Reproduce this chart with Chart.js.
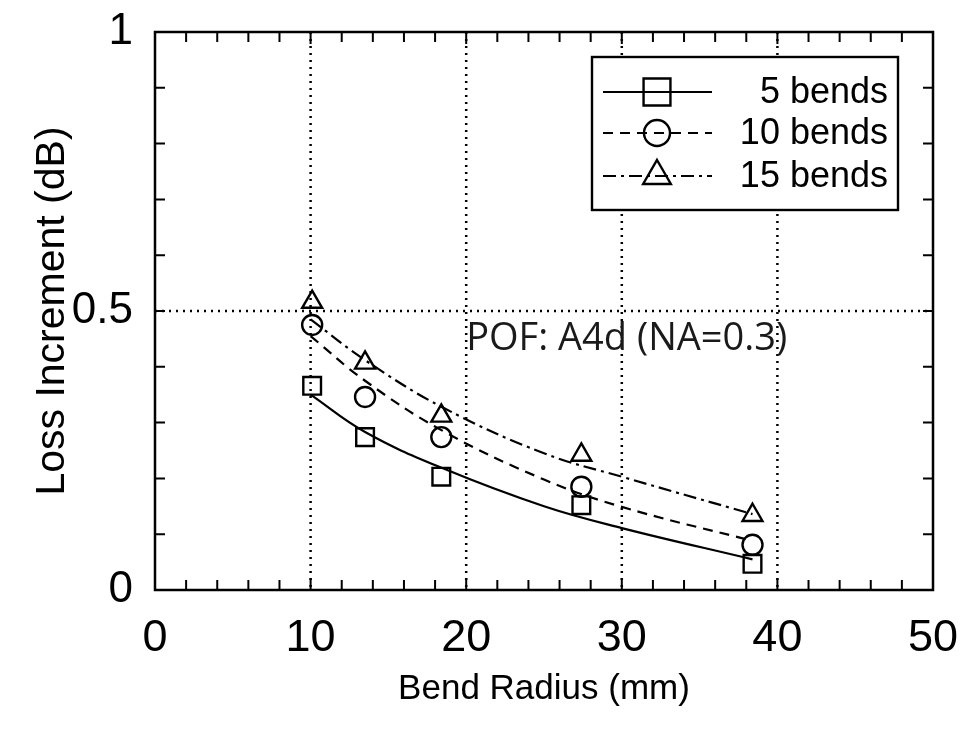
<!DOCTYPE html>
<html>
<head>
<meta charset="utf-8">
<script src="https://cdn.jsdelivr.net/npm/chart.js@4.4.1/dist/chart.umd.min.js"></script>
<style>
  body { margin: 0; background: #fff; }
  canvas { display: block; }
</style>
</head>
<body>
<canvas id="bendChart" width="964" height="734"></canvas>
<script>
// measured points (bend radius in mm, loss in dB)
const radius = [10.1, 13.5, 18.4, 27.4, 38.4];
const loss5 = [0.366, 0.274, 0.203, 0.152, 0.047];
const loss10 = [0.475, 0.346, 0.274, 0.185, 0.081];
const loss15 = [0.516, 0.407, 0.312, 0.242, 0.134];

// fitted curves
const fitRadius = [10, 13.5, 18.5, 25, 30, 38.4];
const fit5 = [0.350, 0.283, 0.218, 0.150, 0.111, 0.055];
const fit10 = [0.455, 0.375, 0.285, 0.198, 0.149, 0.088];
const fit15 = [0.485, 0.412, 0.327, 0.245, 0.203, 0.136];

const legendLabels = ['5 bends', '10 bends', '15 bends'];
const xTicks = [0, 10, 20, 30, 40, 50];
const yTicks = [0, 0.5, 1];

const axisFont = 'Liberation Sans, Arial, sans-serif';

function pts(xs, ys) {
    return xs.map((x, i) => ({ x: x, y: ys[i] }));
}

// r = marker size in the plot, lr = size in the legend
const styles = [
    { dash: [], marker: 'rect', r: 12.5, lr: 19 },
    { dash: [10, 7], marker: 'circle', r: 10, lr: 13 },
    { dash: [13, 5, 3, 5], marker: 'triangle', r: 11.5, lr: 16 }
];

const fits = [fit5, fit10, fit15];
const measured = [loss5, loss10, loss15];

const datasets = [];
fits.forEach((f, i) => {
    datasets.push({
        data: pts(fitRadius, f),
        borderColor: '#000',
        borderWidth: 2.2,
        borderDash: styles[i].dash,
        pointRadius: 0,
        tension: 0.4,
        fill: false
    });
});
measured.forEach((m, i) => {
    datasets.push({
        data: pts(radius, m),
        showLine: false,
        pointStyle: styles[i].marker,
        pointRadius: styles[i].r,
        pointBorderWidth: 2.4,
        pointBorderColor: '#000',
        pointBackgroundColor: 'rgba(0,0,0,0)'
    });
});

// frame, inward ticks, dotted grid, legend and note
const framePlugin = {
    id: 'frame',
    beforeDatasetsDraw(chart) {
        const ctx = chart.ctx;
        const a = chart.chartArea;
        const xs = chart.scales.x;
        const ys = chart.scales.y;
        ctx.save();
        ctx.strokeStyle = '#000';
        // dotted grid
        ctx.lineWidth = 2.5;
        ctx.setLineDash([2, 5]);
        [10, 20, 30, 40].forEach(v => {
            const px = xs.getPixelForValue(v);
            ctx.beginPath();
            ctx.moveTo(px, a.top);
            ctx.lineTo(px, a.bottom);
            ctx.stroke();
        });
        const py = ys.getPixelForValue(0.5);
        ctx.beginPath();
        ctx.moveTo(a.left, py);
        ctx.lineTo(a.right, py);
        ctx.stroke();
        ctx.setLineDash([]);

        // ticks
        ctx.lineWidth = 2;
        for (let v = 2; v < 50; v += 2) {
            const px = xs.getPixelForValue(v);
            const len = v % 10 === 0 ? 12 : 10;
            ctx.beginPath();
            ctx.moveTo(px, a.bottom);
            ctx.lineTo(px, a.bottom - len);
            ctx.moveTo(px, a.top);
            ctx.lineTo(px, a.top + len);
            ctx.stroke();
        }
        for (let k = 1; k < 10; k++) {
            const p = ys.getPixelForValue(k / 10);
            ctx.beginPath();
            ctx.moveTo(a.left, p);
            ctx.lineTo(a.left + 10, p);
            ctx.moveTo(a.right, p);
            ctx.lineTo(a.right - 10, p);
            ctx.stroke();
        }
        ctx.lineWidth = 2.5;
        ctx.strokeRect(a.left, a.top, a.right - a.left, a.bottom - a.top);

        // note
        ctx.fillStyle = '#1a1a1a';
        ctx.font = '38px "Open Sans", "Noto Sans", sans-serif';
        ctx.textAlign = 'left';
        ctx.textBaseline = 'middle';
        ctx.fillText('POF: A4d (NA=0.3)', xs.getPixelForValue(20), ys.getPixelForValue(0.45));
        ctx.restore();
    },
    afterDatasetsDraw(chart) {
        const ctx = chart.ctx;
        ctx.save();
        const bx = 592, by = 57, bw = 306, bh = 153;
        ctx.fillStyle = '#fff';
        ctx.fillRect(bx, by, bw, bh);
        ctx.strokeStyle = '#000';
        ctx.lineWidth = 2.4;
        ctx.strokeRect(bx, by, bw, bh);
        const rows = [92, 133, 176];
        ctx.font = '36px ' + axisFont;
        ctx.textAlign = 'right';
        ctx.textBaseline = 'middle';
        rows.forEach((y, i) => {
            ctx.lineWidth = 2.2;
            ctx.setLineDash(styles[i].dash);
            ctx.beginPath();
            ctx.moveTo(603, y);
            ctx.lineTo(712, y);
            ctx.stroke();
            ctx.setLineDash([]);
            ctx.fillStyle = 'rgba(0,0,0,0)';
            ctx.lineWidth = 2.4;
            Chart.helpers.drawPoint(ctx, {
                pointStyle: styles[i].marker,
                radius: styles[i].lr,
                borderWidth: 2.4,
                rotation: 0
            }, 657, y);
            ctx.fillStyle = '#000';
            ctx.fillText(legendLabels[i], 888, y + 1);
        });
        ctx.restore();
    }
};

new Chart(document.getElementById('bendChart'), {
    type: 'line',
    data: { datasets: datasets },
    plugins: [framePlugin],
    options: {
        responsive: false,
        animation: false,
        layout: { padding: { top: 32, right: 31, left: 0, bottom: 0 } },
        plugins: {
            legend: { display: false },
            tooltip: { enabled: false }
        },
        scales: {
            x: {
                type: 'linear',
                min: 0,
                max: 50,
                afterBuildTicks: s => { s.ticks = xTicks.map(v => ({ value: v })); },
                afterFit: s => { s.height = 144; s.paddingLeft = 0; s.paddingRight = 0; },
                grid: { display: false },
                border: { display: false },
                ticks: {
                    color: '#000',
                    padding: 14,
                    maxRotation: 0,
                    font: { family: axisFont, size: 45 }
                },
                title: {
                    display: true,
                    text: 'Bend Radius (mm)',
                    color: '#000',
                    font: { family: axisFont, size: 35 },
                    padding: { top: 0, bottom: 24 }
                }
            },
            y: {
                type: 'linear',
                min: 0,
                max: 1,
                afterBuildTicks: s => { s.ticks = yTicks.map(v => ({ value: v })); },
                afterFit: s => { s.width = 155; s.paddingTop = 0; s.paddingBottom = 0; },
                grid: { display: false },
                border: { display: false },
                ticks: {
                    color: '#000',
                    padding: 14,
                    font: { family: axisFont, size: 44 },
                    callback: v => String(v)
                },
                title: {
                    display: true,
                    text: 'Loss Increment (dB)',
                    color: '#000',
                    font: { family: axisFont, size: 41 },
                    padding: { top: 28, bottom: 0 }
                }
            }
        }
    }
});
</script>
</body>
</html>
